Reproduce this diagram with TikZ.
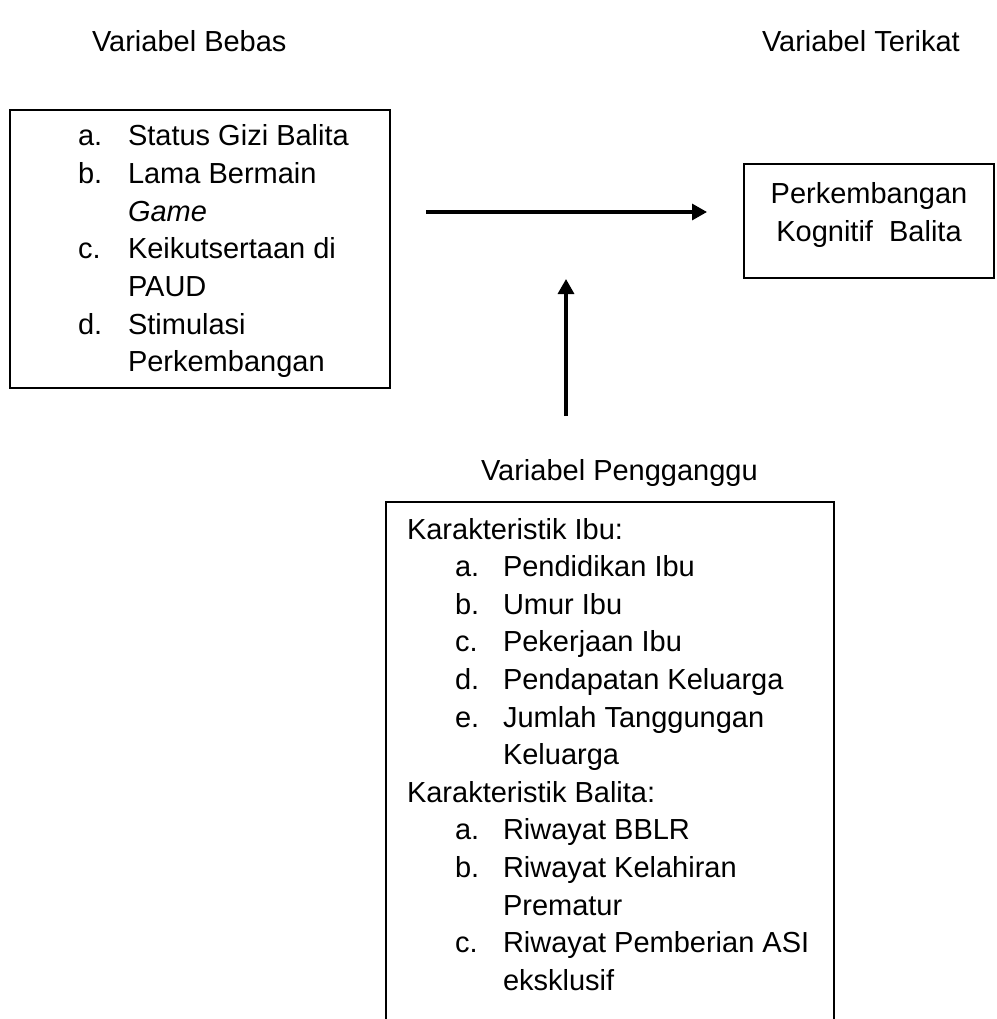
\documentclass[tikz,border=0pt]{standalone}
\usepackage{fontspec}
\setmainfont{Liberation Sans}
\usetikzlibrary{arrows.meta}
\begin{document}
\begin{tikzpicture}[x=1pt,y=-1pt,
  every node/.style={inner sep=0pt, outer sep=0pt, font=\fontsize{29}{37.6}\selectfont},
  txt/.style={anchor=base west},
  ctxt/.style={anchor=base},
  frame/.style={draw, line width=1.5pt, rectangle, anchor=north west, inner sep=0pt},
  arr/.style={line width=3.3pt, -{Triangle[length=15pt,width=16pt]}}]
\useasboundingbox (0,0) rectangle (996,1019);
\clip (0,0) rectangle (996,1019);
% headers
\node[txt] (hb) at (92,52) {Variabel Bebas};
\node[txt] (ht) at (762,52) {Variabel Terikat};
\node[txt] (hp) at (481,480) {Variabel Pengganggu};
% boxes
\node[frame, minimum width=380pt, minimum height=278pt] (bebas) at (10,110) {};
\node[frame, minimum width=250pt, minimum height=114pt] (terikat) at (744,164) {};
\node[frame, minimum width=448pt, minimum height=600pt] (ganggu) at (386,502) {};
% left box text
\node[txt] (la) at (78,146) {a.};
\node[txt] (lat) at (128,146) {Status Gizi Balita};
\node[txt] (lb) at (78,183.6) {b.};
\node[txt] (lbt) at (128,183.6) {Lama Bermain};
\node[txt] (lbt2) at (128,221.2) {\itshape Game};
\node[txt] (lc) at (78,258.8) {c.};
\node[txt] (lct) at (128,258.8) {Keikutsertaan di};
\node[txt] (lct2) at (128,296.4) {PAUD};
\node[txt] (ld) at (78,334) {d.};
\node[txt] (ldt) at (128,334) {Stimulasi};
\node[txt] (ldt2) at (128,371.6) {Perkembangan};
% right box text
\node[ctxt] (r1) at (869,204) {Perkembangan};
\node[ctxt] (r2) at (869,241) {Kognitif\ \ Balita};
% bottom box text
\node[txt] (k1) at (407,539) {Karakteristik Ibu:};
\node[txt] (k1a) at (455,576.6) {a.};
\node[txt] (k1at) at (503,576.6) {Pendidikan Ibu};
\node[txt] (k1b) at (455,614.2) {b.};
\node[txt] (k1bt) at (503,614.2) {Umur Ibu};
\node[txt] (k1c) at (455,651.8) {c.};
\node[txt] (k1ct) at (503,651.8) {Pekerjaan Ibu};
\node[txt] (k1d) at (455,689.4) {d.};
\node[txt] (k1dt) at (503,689.4) {Pendapatan Keluarga};
\node[txt] (k1e) at (455,727) {e.};
\node[txt] (k1et) at (503,727) {Jumlah Tanggungan};
\node[txt] (k1et2) at (503,764.6) {Keluarga};
\node[txt] (k2) at (407,802.2) {Karakteristik Balita:};
\node[txt] (k2a) at (455,839.8) {a.};
\node[txt] (k2at) at (503,839.8) {Riwayat BBLR};
\node[txt] (k2b) at (455,877.4) {b.};
\node[txt] (k2bt) at (503,877.4) {Riwayat Kelahiran};
\node[txt] (k2bt2) at (503,915) {Prematur};
\node[txt] (k2c) at (455,952.6) {c.};
\node[txt] (k2ct) at (503,952.6) {Riwayat Pemberian ASI};
\node[txt] (k2ct2) at (503,990.2) {eksklusif};
% arrows
\coordinate (h1) at (426,212);
\coordinate (h2) at (707,212);
\draw[arr] (h1) -- (h2);
\coordinate (v1) at (566,416);
\coordinate (v2) at (566,279);
\draw[arr] (v1) -- (v2);
\end{tikzpicture}
\end{document}
